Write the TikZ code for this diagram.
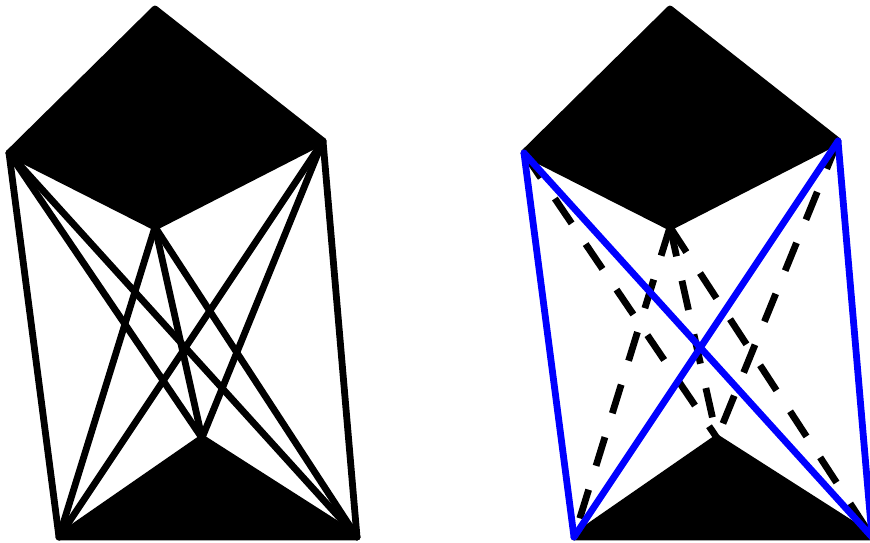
\documentclass[tikz,border=0pt]{standalone}
\begin{document}
\begin{tikzpicture}[x=1pt,y=-1pt,
  edge/.style={line width=6.8pt,line cap=round,line join=round},
  solidblk/.style={edge,black},
  blueedge/.style={edge,blue},
  dashedge/.style={line width=6.8pt,black,line cap=butt,dash pattern=on 30pt off 25pt},
  face/.style={fill=black,draw=black,line width=6.8pt,line join=round}]
\useasboundingbox (0,0) rectangle (870,543);
% left figure
\begin{scope}
\coordinate (T) at (155,9);
\coordinate (L) at (9,153);
\coordinate (R) at (323,141);
\coordinate (I1) at (155,227);
\coordinate (I2) at (202,438);
\coordinate (BL) at (59,537);
\coordinate (BR) at (357,537);
\filldraw[face] (T) -- (L) -- (I1) -- (R) -- cycle;
\filldraw[face] (BL) -- (I2) -- (BR) -- cycle;
\foreach \a in {L,R,I1}{
  \foreach \b in {BL,BR,I2}{
    \draw[solidblk] (\a) -- (\b);
  }
}
\end{scope}
% right figure
\begin{scope}
\coordinate (T2) at (670,9);
\coordinate (L2) at (524,153);
\coordinate (R2) at (838,141);
\coordinate (J1) at (670,227);
\coordinate (J2) at (717,438);
\coordinate (BL2) at (574,537);
\coordinate (BR2) at (872,537);
\filldraw[face] (T2) -- (L2) -- (J1) -- (R2) -- cycle;
\filldraw[face] (BL2) -- (J2) -- (BR2) -- cycle;
\draw[dashedge] (L2) -- (J2);
\draw[dashedge] (R2) -- (J2);
\draw[dashedge] (J1) -- (BL2);
\draw[dashedge] (J1) -- (BR2);
\draw[dashedge] (J1) -- (J2);
\draw[blueedge] (L2) -- (BL2);
\draw[blueedge] (R2) -- (BR2);
\draw[blueedge] (L2) -- (BR2);
\draw[blueedge] (R2) -- (BL2);
\end{scope}
\end{tikzpicture}
\end{document}
